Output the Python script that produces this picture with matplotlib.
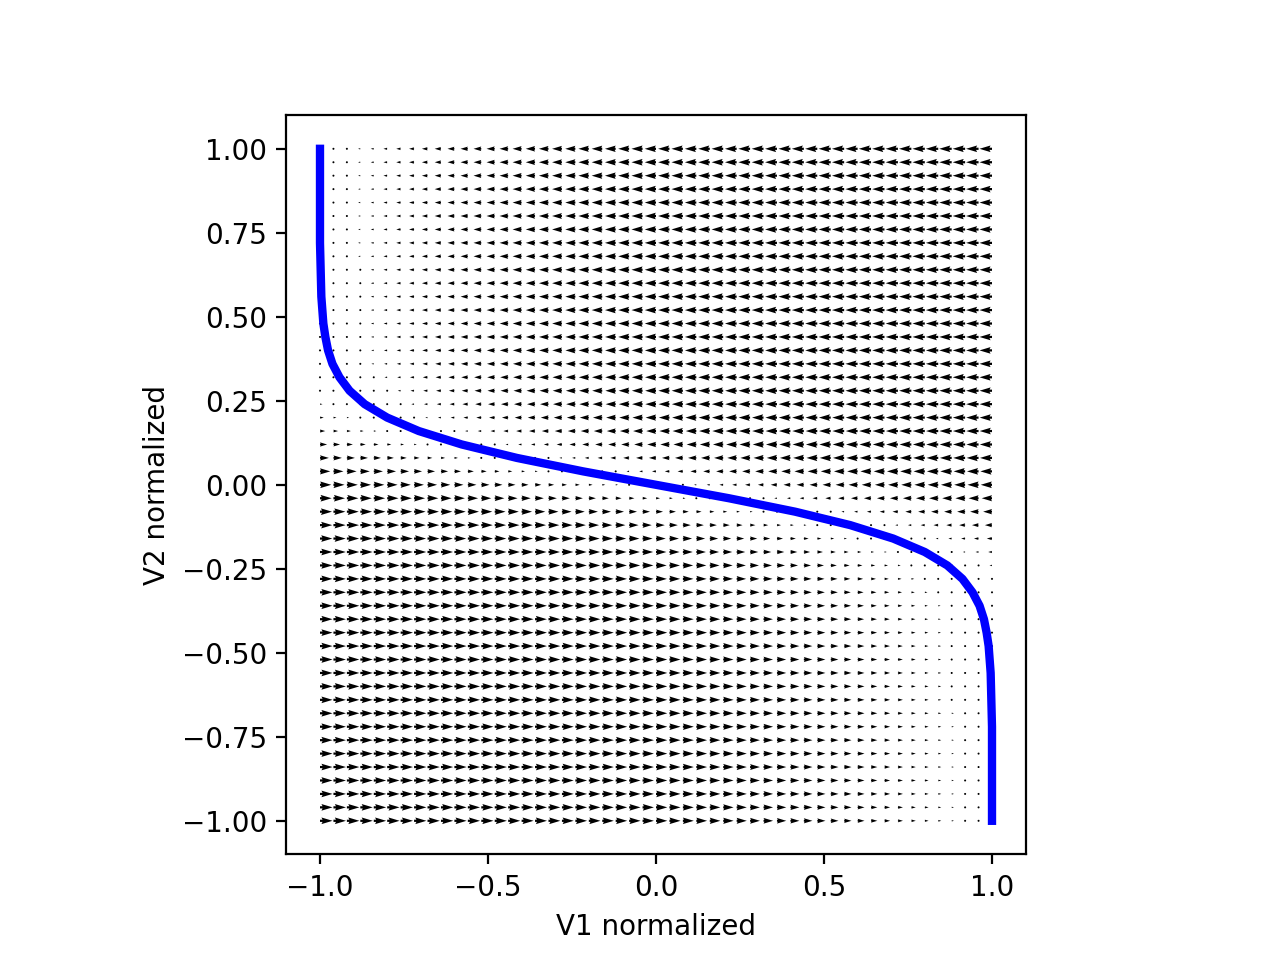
import numpy as np
import matplotlib

matplotlib.use("Agg")
import matplotlib.pyplot as plt


# grid of the direction field (51 x 51 points on [-1, 1])
V1_GRID = np.linspace(-1.0, 1.0, 51)
V2_GRID = np.linspace(-1.0, 1.0, 51)

# V1 nullcline, one value per grid row (V2 ascending)
NULLCLINE_V1 = [
    1.000, 1.000, 1.000, 1.000, 1.000, 1.000, 1.000, 1.000,
    0.999, 0.998, 0.997, 0.996, 0.993, 0.990, 0.984, 0.976,
    0.963, 0.942, 0.912, 0.867, 0.800, 0.706, 0.578, 0.414,
    0.217, 0.000,
    -0.217, -0.414, -0.578, -0.706, -0.800, -0.867, -0.912, -0.942,
    -0.963, -0.976, -0.984, -0.990, -0.993, -0.996, -0.997, -0.998,
    -0.999, -1.000, -1.000, -1.000, -1.000, -1.000, -1.000, -1.000,
    -1.000,
]

# arrow length vs horizontal distance from the nullcline
DIST = [0.0, 0.1, 0.2, 0.4, 0.6, 0.8, 1.0, 1.5, 2.0]
ARROW_LEN = [0.0, 0.15, 0.30, 0.55, 0.72, 0.83, 0.90, 0.97, 1.0]

X_TICKS = [-1.0, -0.5, 0.0, 0.5, 1.0]
Y_TICKS = [-1.0, -0.75, -0.5, -0.25, 0.0, 0.25, 0.5, 0.75, 1.0]


def main():
    X, Y = np.meshgrid(V1_GRID, V2_GRID)
    null_x = np.array(NULLCLINE_V1)[:, None]
    d = null_x - X
    U = np.sign(d) * np.interp(np.abs(d), DIST, ARROW_LEN)
    V = np.zeros_like(U)

    fig, ax = plt.subplots(figsize=(6.4, 4.8), dpi=200)
    ax.quiver(X, Y, U, V, scale=59, width=0.003)
    ax.plot(NULLCLINE_V1, V2_GRID, color="blue", linewidth=3)

    ax.set_xticks(X_TICKS)
    ax.set_yticks(Y_TICKS)
    ax.set_xlabel("V1 normalized")
    ax.set_ylabel("V2 normalized")
    ax.set_aspect("equal")

    fig.savefig("out.png", dpi=200)
    plt.close(fig)


if __name__ == "__main__":
    main()
